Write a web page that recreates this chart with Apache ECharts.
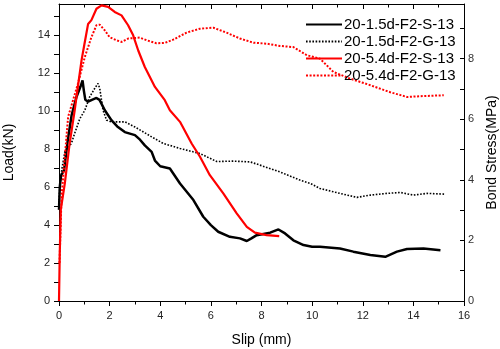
<!DOCTYPE html>
<html>
<head>
<meta charset="utf-8">
<script src="https://cdn.jsdelivr.net/npm/echarts@6/dist/echarts.min.js"></script>
<style>
  html, body { margin: 0; padding: 0; background: #fff; }
  #chart { width: 500px; height: 349px; }
</style>
</head>
<body>
<div id="chart"></div>
<script>
// Load–slip curves of the four pull-out specimens: [slip (mm), load (kN)]
const seriesNames = ['20-1.5d-F2-S-13', '20-1.5d-F2-G-13', '20-5.4d-F2-S-13', '20-5.4d-F2-G-13'];

const s15S = [
  [0, 4.8], [0.03, 6.0], [0.08, 6.6], [0.2, 6.9], [0.35, 8.5], [0.5, 9.8], [0.69, 10.75],
  [0.85, 11.3], [0.93, 11.63], [0.98, 11.1], [1.04, 10.6], [1.15, 10.5], [1.3, 10.6],
  [1.48, 10.7], [1.6, 10.6], [1.81, 10.05], [2.07, 9.53], [2.3, 9.2], [2.6, 8.9],
  [3.0, 8.74], [3.2, 8.5], [3.39, 8.2], [3.66, 7.86], [3.79, 7.4], [4.0, 7.1],
  [4.38, 6.98], [4.78, 6.19], [5.31, 5.32], [5.7, 4.44], [6.0, 4.0], [6.29, 3.65],
  [6.75, 3.38], [7.15, 3.3], [7.42, 3.16], [7.6, 3.3], [7.81, 3.47], [8.34, 3.6],
  [8.67, 3.77], [8.93, 3.56], [9.26, 3.2], [9.66, 2.95], [10.0, 2.86], [10.31, 2.86],
  [11.1, 2.77], [11.63, 2.6], [12.3, 2.42], [12.89, 2.33], [13.35, 2.6], [13.75, 2.74],
  [14.4, 2.77], [15.07, 2.68]
];

const s15G = [
  [0, 5.3], [0.05, 6.3], [0.12, 7.0], [0.23, 7.86], [0.49, 8.3], [0.62, 8.84], [0.82, 9.6],
  [1.02, 10.05], [1.21, 10.75], [1.41, 11.2], [1.54, 11.46], [1.61, 11.2], [1.74, 10.05],
  [1.88, 9.53], [2.07, 9.44], [2.6, 9.44], [3.0, 9.17], [3.66, 8.65], [4.12, 8.3],
  [4.78, 8.04], [5.3, 7.86], [5.57, 7.77], [6.23, 7.35], [6.89, 7.37], [7.55, 7.33],
  [7.94, 7.16], [8.73, 6.8], [9.52, 6.37], [9.92, 6.2], [10.31, 5.93], [11.1, 5.67],
  [11.77, 5.46], [12.3, 5.58], [12.96, 5.67], [13.48, 5.72], [14.0, 5.58], [14.54, 5.67],
  [15.26, 5.63]
];

const s54S = [
  [0, 0], [0.03, 2.5], [0.07, 4.8], [0.23, 6.2], [0.42, 8.3], [0.62, 10.05], [0.69, 10.75],
  [0.89, 12.68], [1.0, 13.5], [1.15, 14.6], [1.28, 14.8], [1.48, 15.4], [1.68, 15.58],
  [1.94, 15.5], [2.2, 15.23], [2.47, 15.05], [2.73, 14.53], [2.93, 14.0], [3.13, 13.2],
  [3.39, 12.33], [3.79, 11.28], [4.18, 10.58], [4.38, 10.05], [4.78, 9.44], [5.24, 8.3],
  [5.57, 7.6], [5.96, 6.63], [6.49, 5.67], [7.02, 4.62], [7.42, 3.91], [7.74, 3.6],
  [8.2, 3.47], [8.7, 3.42]
];

const s54G = [
  [0.02, 2.0], [0.1, 5.5], [0.36, 9.7], [0.75, 11.46], [1.02, 12.86], [1.28, 13.9],
  [1.48, 14.53], [1.61, 14.56], [1.81, 14.26], [2.0, 13.9], [2.27, 13.74], [2.47, 13.65],
  [2.73, 13.83], [3.19, 13.88], [3.46, 13.74], [3.85, 13.58], [4.18, 13.6], [4.51, 13.77],
  [5.04, 14.14], [5.57, 14.35], [6.1, 14.4], [6.62, 14.14], [7.15, 13.83], [7.68, 13.61],
  [8.2, 13.56], [8.73, 13.44], [9.26, 13.38], [9.79, 12.95], [10.31, 12.77], [10.84, 12.07],
  [11.5, 11.72], [12.3, 11.37], [13.09, 11.0], [13.75, 10.75], [14.4, 10.8], [15.2, 10.84]
];

// Axis ranges: load (left) and equivalent bond stress (right)
const loadMax = 15.65;
const stressMax = 9.8;
const slipMax = 16;

const font = "'Liberation Sans', Arial, sans-serif";
const evenOnly = v => (Math.abs(v - Math.round(v)) < 1e-9 && Math.round(v) % 2 === 0) ? String(Math.round(v)) : '';

const chart = echarts.init(document.getElementById('chart'), null, { renderer: 'canvas' });

const mkLine = (name, data, color, width, type, z) => ({
  name, type: 'line', data, yAxisIndex: 0, xAxisIndex: 0,
  showSymbol: false, symbol: 'none', smooth: false, z,
  lineStyle: { color, width, type },
  itemStyle: { color },
  animation: false
});

chart.setOption({
  animation: false,
  backgroundColor: '#fff',
  grid: { left: 59, right: 36, top: 4, bottom: 48, containLabel: false, outerBoundsMode: 'none' },
  legend: {
    orient: 'vertical', left: 305, top: 17, padding: 0,
    itemWidth: 36, itemHeight: 14, itemGap: 2,
    itemStyle: { opacity: 0 },
    textStyle: { fontFamily: font, fontSize: 15, color: '#000', padding: [0, 0, 0, -3] },
    data: seriesNames
  },
  xAxis: [
    {
      type: 'value', min: 0, max: slipMax, interval: 2, position: 'bottom',
      name: 'Slip (mm)', nameLocation: 'middle', nameGap: 32,
      nameTextStyle: { fontFamily: font, fontSize: 14, color: '#000' },
      axisLine: { show: true, onZero: false, lineStyle: { color: '#000', width: 1 } },
      axisTick: { show: true, inside: false, length: 5, lineStyle: { color: '#000' } },
      minorTick: { show: true, splitNumber: 2, length: 3.5, lineStyle: { color: '#000' } },
      axisLabel: { fontFamily: font, fontSize: 11, color: '#222', margin: 9 },
      splitLine: { show: false }
    },
    {
      type: 'value', min: 0, max: slipMax, interval: 2, position: 'top',
      axisLine: { show: true, onZero: false, lineStyle: { color: '#000', width: 1 } },
      axisTick: { show: true, inside: true, length: 5, lineStyle: { color: '#000' } },
      minorTick: { show: true, splitNumber: 2, length: 3.5, lineStyle: { color: '#000' } },
      axisLabel: { show: false },
      splitLine: { show: false }
    }
  ],
  yAxis: [
    {
      type: 'value', min: 0, max: loadMax, interval: 1, position: 'left',
      name: 'Load(kN)', nameLocation: 'middle', nameGap: 43, nameRotate: 90,
      nameTextStyle: { fontFamily: font, fontSize: 14, color: '#000' },
      axisLine: { show: true, onZero: false, lineStyle: { color: '#000', width: 1 } },
      axisTick: { show: true, inside: false, length: 5, lineStyle: { color: '#000' } },
      axisLabel: { fontFamily: font, fontSize: 11, color: '#222', margin: 9, formatter: evenOnly,
        showMaxLabel: false },
      splitLine: { show: false }
    },
    {
      type: 'value', min: 0, max: stressMax, interval: 1, position: 'right',
      name: 'Bond Stress(MPa)', nameLocation: 'middle', nameGap: 21, nameRotate: 90,
      nameTextStyle: { fontFamily: font, fontSize: 14, color: '#000' },
      axisLine: { show: true, onZero: false, lineStyle: { color: '#000', width: 1 } },
      axisTick: { show: true, inside: true, length: 4, lineStyle: { color: '#000' } },
      axisLabel: { fontFamily: font, fontSize: 11, color: '#333', margin: 4, formatter: evenOnly,
        showMaxLabel: false },
      splitLine: { show: false }
    }
  ],
  series: [
    mkLine(seriesNames[0], s15S, '#000000', 2.5, 'solid', 2),
    mkLine(seriesNames[1], s15G, '#000000', 1.6, [1.6, 1.6], 2),
    mkLine(seriesNames[2], s54S, '#ff0000', 2.2, 'solid', 3),
    mkLine(seriesNames[3], s54G, '#ff0000', 2, [2, 1.6], 3)
  ]
});
</script>
</body>
</html>
